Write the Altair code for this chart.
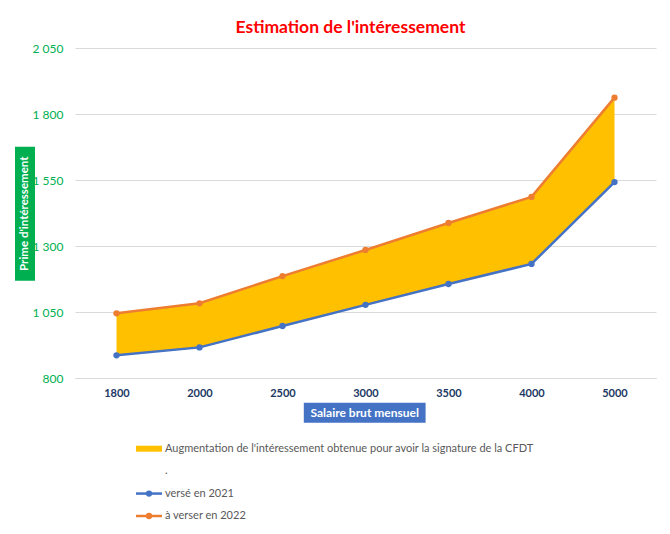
import pandas as pd
import altair as alt

# values
salaires = ["1800", "2000", "2500", "3000", "3500", "4000", "5000"]
verse_2021 = [886, 916, 997, 1077, 1156, 1232, 1542]
a_verser_2022 = [1045, 1083, 1186, 1285, 1387, 1486, 1862]
y_ticks = [800, 1050, 1300, 1550, 1800, 2050]

legend_labels = [
    "Augmentation de l'intéressement obtenue pour avoir la signature de la CFDT",
    ".",
    "versé en 2021",
    "à verser en 2022",
]

title_text = "Estimation de l'intéressement"
x_title = "Salaire brut mensuel"
y_title = "Prime d'intéressement"

YELLOW = "#FFC000"
BLUE = "#4472C4"
ORANGE = "#ED7D31"
GREEN = "#00B050"
GRID = "#D9D9D9"
FONT = "Lato"
W, H = 581, 330

df = pd.DataFrame({"salaire": salaires, "v2021": verse_2021, "v2022": a_verser_2022})
leg = pd.DataFrame({"label": legend_labels, "row": list(range(len(legend_labels)))})

x_enc = alt.X(
    "salaire:O",
    sort=salaires,
    title=None,
    axis=alt.Axis(
        labelColor="#203864",
        labelFont=FONT,
        labelFontWeight="bold",
        labelFontSize=11,
        labelAngle=0,
        labelPadding=9,
        ticks=False,
        grid=False,
        domainColor=GRID,
    ),
)
y_scale = alt.Scale(domain=[800, 2050], nice=False, zero=False)
y_axis = alt.Axis(
    values=y_ticks,
    labelExpr="replace(format(datum.value, ','), ',', ' ')",
    labelColor=GREEN,
    labelFont=FONT,
    labelFontSize=12,
    labelPadding=12,
    ticks=False,
    domain=False,
    gridColor=GRID,
)

area = alt.Chart(df).mark_area(color=YELLOW, opacity=1).encode(
    x=x_enc,
    y=alt.Y("v2021:Q", scale=y_scale, title=None, axis=y_axis),
    y2="v2022:Q",
)


def serie(col, color):
    return alt.Chart(df).mark_line(
        color=color,
        strokeWidth=2.5,
        point=alt.OverlayMarkDef(color=color, size=40, filled=True, opacity=1),
    ).encode(x=x_enc, y=alt.Y(f"{col}:Q", scale=y_scale))


main = alt.layer(area, serie("v2021", BLUE), serie("v2022", ORANGE))

# legend drawn below the plot, one row per entry
leg_y = alt.Y("row:Q", scale=alt.Scale(domain=[0, 3], range=[400.7, 468]), axis=None)
leg_base = alt.Chart(leg)
leg_rect = leg_base.transform_filter("datum.row == 0").mark_rule(
    color=YELLOW, strokeWidth=6
).encode(x=alt.value(61), x2=alt.value(87), y=leg_y)
line_color = alt.Color(
    "label:N", scale=alt.Scale(domain=legend_labels[2:], range=[BLUE, ORANGE]), legend=None
)
leg_lines = leg_base.transform_filter("datum.row >= 2").mark_rule(strokeWidth=2.5).encode(
    x=alt.value(61), x2=alt.value(87), y=leg_y, color=line_color
)
leg_pts = leg_base.transform_filter("datum.row >= 2").mark_circle(size=40, opacity=1).encode(
    x=alt.value(74), y=leg_y, color=line_color
)
leg_text = leg_base.mark_text(
    align="left", baseline="middle", font=FONT, fontSize=11, color="#595959"
).encode(x=alt.value(90), y=leg_y, text="label:N")
legend = alt.layer(leg_rect, leg_lines, leg_pts, leg_text)

# axis titles on coloured boxes
ybox = alt.Chart(pd.DataFrame({"t": [y_title]})).mark_rect(color=GREEN).encode(
    x=alt.value(-60), x2=alt.value(-40), y=alt.value(98.7), y2=alt.value(232.7)
)
ytext = alt.Chart(pd.DataFrame({"t": [y_title]})).mark_text(
    angle=270, color="white", fontWeight="bold", font=FONT, fontSize=11.5, baseline="middle"
).encode(x=alt.value(-50), y=alt.value(165.7), text="t:N")
xbox = alt.Chart(pd.DataFrame({"t": [x_title]})).mark_rect(color=BLUE).encode(
    x=alt.value(228.8), x2=alt.value(350.6), y=alt.value(354.7), y2=alt.value(374.7)
)
xtext = alt.Chart(pd.DataFrame({"t": [x_title]})).mark_text(
    color="white", fontWeight="bold", font=FONT, fontSize=12, baseline="middle"
).encode(x=alt.value(289.7), y=alt.value(364.7), text="t:N")
boxes = alt.layer(ybox, ytext, xbox, xtext)

chart = (
    alt.layer(main, legend, boxes)
    .resolve_scale(y="independent")
    .properties(
        width=W,
        height=H,
        title=alt.Title(
            title_text,
            color="#FF0000",
            font=FONT,
            fontSize=17.5,
            fontWeight="bold",
            anchor="middle",
            dx=-15,
            offset=6,
        ),
        autosize=alt.AutoSizeParams(type="none"),
        padding={"left": 67, "top": 40, "right": 6, "bottom": 148},
    )
    .configure_view(stroke=None)
)

chart.save("out.html", embed_options={"renderer": "svg", "actions": False})
